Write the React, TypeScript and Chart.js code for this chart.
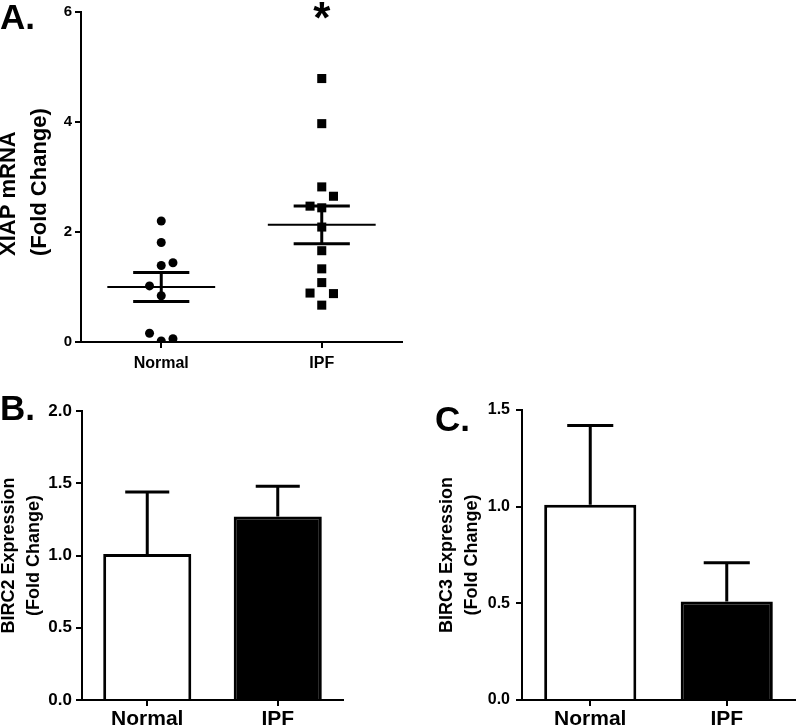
import React, { useEffect, useRef } from 'react';
import { Chart, registerables } from 'chart.js';

Chart.register(...registerables);

const FONT = "'Liberation Sans', Arial, Helvetica, sans-serif";

// ---------- Panel A: XIAP mRNA scatter ----------
const groupsA = ['Normal', 'IPF'];
const normalXiap = [2.2, 1.81, 1.39, 1.44, 1.02, 0.84, 0.16, 0.02, 0.06];
const normalLane = [0, 0, 0, 1, -1, 0, -1, 0, 1];
const ipfXiap = [4.79, 3.97, 2.82, 2.65, 2.47, 2.44, 2.09, 1.66, 1.33, 1.08, 0.89, 0.88, 0.67];
const ipfLane = [0, 0, 0, 1, -1, 0, 0, 0, 0, 0, -1, 1, 0];
const xiapMean = [1.0, 2.13];
const xiapSem = [0.265, 0.345];
const yTicksA = [0, 2, 4, 6];
const titleA = ['XIAP mRNA', '(Fold Change)'];

// ---------- Panel B: BIRC2 ----------
const groupsB = ['Normal', 'IPF'];
const birc2Mean = [1.01, 1.27];
const birc2Err = [0.43, 0.21];
const yTicksB = [0, 0.5, 1.0, 1.5, 2.0];

// ---------- Panel C: BIRC3 ----------
const groupsC = ['Normal', 'IPF'];
const birc3Mean = [1.01, 0.51];
const birc3Err = [0.41, 0.2];
const yTicksC = [0, 0.5, 1.0, 1.5];

const BLACK = '#000000';
const WHITE = '#ffffff';

function makeErrorBarPlugin(errs: number[]) {
  return {
    id: 'errorBars',
    afterDatasetsDraw(chart: any) {
      const meta = chart.getDatasetMeta(0);
      const yScale = chart.scales.y;
      const vals = chart.data.datasets[0].data as number[];
      const ctx = chart.ctx;
      ctx.save();
      ctx.strokeStyle = BLACK;
      ctx.lineWidth = 3;
      meta.data.forEach((bar: any, i: number) => {
        const top = yScale.getPixelForValue(vals[i] + errs[i]);
        const half = bar.width / 4;
        ctx.beginPath();
        ctx.moveTo(bar.x, bar.y);
        ctx.lineTo(bar.x, top);
        ctx.moveTo(bar.x - half, top);
        ctx.lineTo(bar.x + half, top);
        ctx.stroke();
      });
      ctx.restore();
    },
  };
}

// asterisk over a group, and a two-line y title drawn from its start (bottom)
function makeAnnotPlugin(group: number) {
  return {
    id: 'annot',
    afterDatasetsDraw(chart: any) {
      const ctx = chart.ctx;
      const xs = chart.scales.x;
      const ys = chart.scales.y;
      ctx.save();
      ctx.fillStyle = BLACK;
      ctx.font = `bold 44px ${FONT}`;
      ctx.textAlign = 'center';
      ctx.textBaseline = 'alphabetic';
      ctx.fillText('*', xs.getPixelForValue(group), ys.getPixelForValue(6) + 21);

      ctx.font = `bold 22px ${FONT}`;
      ctx.textAlign = 'left';
      ctx.textBaseline = 'middle';
      const lh = 31;
      titleA.forEach((line, i) => {
        ctx.save();
        ctx.translate(ys.left + 15 + i * lh, ys.getPixelForValue(0) - 86);
        ctx.rotate(-Math.PI / 2);
        ctx.fillText(line, 0, 0);
        ctx.restore();
      });
      ctx.restore();
    },
  };
}

const LANE = 0.073;
const MEAN_HALF = 0.336;
const CAP_HALF = 0.175;

function configA(): any {
  const segs: { pts: number[][]; w: number }[] = [];
  [0, 1].forEach((g) => {
    const m = xiapMean[g];
    const s = xiapSem[g];
    segs.push({ pts: [[g - MEAN_HALF, m], [g + MEAN_HALF, m]], w: 2 });
    segs.push({ pts: [[g - CAP_HALF, m + s], [g + CAP_HALF, m + s]], w: 3 });
    segs.push({ pts: [[g - CAP_HALF, m - s], [g + CAP_HALF, m - s]], w: 3 });
    segs.push({ pts: [[g, m - s], [g, m + s]], w: 3 });
  });
  const lineSets = segs.map((s) => ({
    data: s.pts.map(([x, y]) => ({ x, y })),
    showLine: true,
    borderColor: BLACK,
    borderWidth: s.w,
    pointRadius: 0,
    tension: 0,
  }));
  return {
    type: 'scatter',
    data: {
      datasets: [
        {
          data: normalXiap.map((y, i) => ({ x: 0 + normalLane[i] * LANE, y })),
          pointStyle: 'circle',
          pointRadius: 4.5,
          pointBorderWidth: 0,
          backgroundColor: BLACK,
          borderColor: BLACK,
        },
        {
          data: ipfXiap.map((y, i) => ({ x: 1 + ipfLane[i] * LANE, y })),
          pointStyle: 'rect',
          pointRadius: 6.4,
          pointBorderWidth: 0,
          backgroundColor: BLACK,
          borderColor: BLACK,
        },
        ...lineSets,
      ],
    },
    options: {
      animation: false,
      responsive: false,
      maintainAspectRatio: false,
      layout: { padding: { top: 9, right: 8, left: 0, bottom: 0 } },
      plugins: { legend: { display: false }, tooltip: { enabled: false } },
      scales: {
        x: {
          type: 'linear',
          min: -0.5,
          max: 1.5,
          afterBuildTicks: (s: any) => {
            s.ticks = groupsA.map((_, i) => ({ value: i }));
          },
          afterFit: (s: any) => {
            s.height = 38;
          },
          grid: { drawOnChartArea: false, drawTicks: true, tickLength: 6, color: BLACK, lineWidth: 2 },
          border: { display: true, color: BLACK, width: 2 },
          ticks: {
            color: BLACK,
            padding: 6,
            font: { family: FONT, size: 16, weight: 'bold' },
            callback: (v: number) => groupsA[v] ?? '',
          },
        },
        y: {
          min: 0,
          max: 6,
          afterBuildTicks: (s: any) => {
            s.ticks = yTicksA.map((v) => ({ value: v }));
          },
          afterFit: (s: any) => {
            s.width = 87;
          },
          grid: { drawOnChartArea: false, drawTicks: true, tickLength: 6, color: BLACK, lineWidth: 2 },
          border: { display: true, color: BLACK, width: 2 },
          ticks: {
            color: BLACK,
            padding: 3,
            font: { family: FONT, size: 15, weight: 'bold' },
            callback: (v: number) => String(v),
          },
          title: { display: false },
        },
      },
    },
    plugins: [makeAnnotPlugin(1)],
  };
}

function configBar(
  groups: string[],
  means: number[],
  errs: number[],
  ticksArr: number[],
  yMax: number,
  title: string[],
  pad: any,
  yWidth: number,
  tickFont: number,
  tickPad: number
): any {
  return {
    type: 'bar',
    data: {
      labels: groups,
      datasets: [
        {
          data: means,
          backgroundColor: [WHITE, BLACK],
          borderColor: BLACK,
          borderWidth: 3,
          barPercentage: 0.675,
          categoryPercentage: 1,
        },
      ],
    },
    options: {
      animation: false,
      responsive: false,
      maintainAspectRatio: false,
      layout: { padding: pad },
      plugins: { legend: { display: false }, tooltip: { enabled: false } },
      scales: {
        x: {
          afterFit: (s: any) => {
            s.height = 28;
          },
          grid: { offset: false, drawOnChartArea: false, drawTicks: true, tickLength: 6, color: BLACK, lineWidth: 2 },
          border: { display: true, color: BLACK, width: 2 },
          ticks: { color: BLACK, padding: 1, font: { family: FONT, size: 21, weight: 'bold' } },
        },
        y: {
          min: 0,
          max: yMax,
          afterBuildTicks: (s: any) => {
            s.ticks = ticksArr.map((v) => ({ value: v }));
          },
          afterFit: (s: any) => {
            s.width = yWidth;
          },
          grid: { drawOnChartArea: false, drawTicks: true, tickLength: 6, color: BLACK, lineWidth: 2 },
          border: { display: true, color: BLACK, width: 2 },
          ticks: {
            color: BLACK,
            padding: tickPad,
            font: { family: FONT, size: tickFont, weight: 'bold' },
            callback: (v: number) => Number(v).toFixed(1),
          },
          title: {
            display: true,
            text: title,
            color: BLACK,
            padding: 0,
            font: { family: FONT, size: 18, weight: 'bold', lineHeight: 1.4 },
          },
        },
      },
    },
    plugins: [makeErrorBarPlugin(errs)],
  };
}

function ChartBox(props: { make: () => any; left: number; top: number; width: number; height: number }) {
  const ref = useRef<HTMLCanvasElement>(null);
  useEffect(() => {
    const chart = new Chart(ref.current as HTMLCanvasElement, props.make());
    return () => chart.destroy();
  }, []);
  return (
    <canvas
      ref={ref}
      width={props.width}
      height={props.height}
      style={{ position: 'absolute', left: props.left, top: props.top, width: props.width, height: props.height }}
    />
  );
}

const labelStyle = (left: number, top: number): React.CSSProperties => ({
  position: 'absolute',
  left,
  top,
  fontFamily: FONT,
  fontWeight: 'bold',
  fontSize: 35,
  lineHeight: '35px',
  color: BLACK,
});

export default function App() {
  return (
    <div style={{ position: 'absolute', left: 0, top: 0, width: 796, height: 728, background: WHITE, overflow: 'hidden' }}>
      <ChartBox make={configA} left={-6} top={0} width={416} height={380} />
      <ChartBox
        make={() =>
          configBar(groupsB, birc2Mean, birc2Err, yTicksB, 2.0, ['BIRC2 Expression', '(Fold Change)'], { top: 31, right: 5, left: 0, bottom: 0 }, 86, 17, 4)
        }
        left={-4}
        top={380}
        width={352}
        height={348}
      />
      <ChartBox
        make={() =>
          configBar(groupsC, birc3Mean, birc3Err, yTicksC, 1.5, ['BIRC3 Expression', '(Fold Change)'], { top: 30, right: 1, left: 0, bottom: 0 }, 88, 16, 6)
        }
        left={434}
        top={380}
        width={362}
        height={348}
      />
      <div style={labelStyle(0, -1)}>A.</div>
      <div style={labelStyle(0, 390)}>B.</div>
      <div style={labelStyle(435, 401)}>C.</div>
    </div>
  );
}
